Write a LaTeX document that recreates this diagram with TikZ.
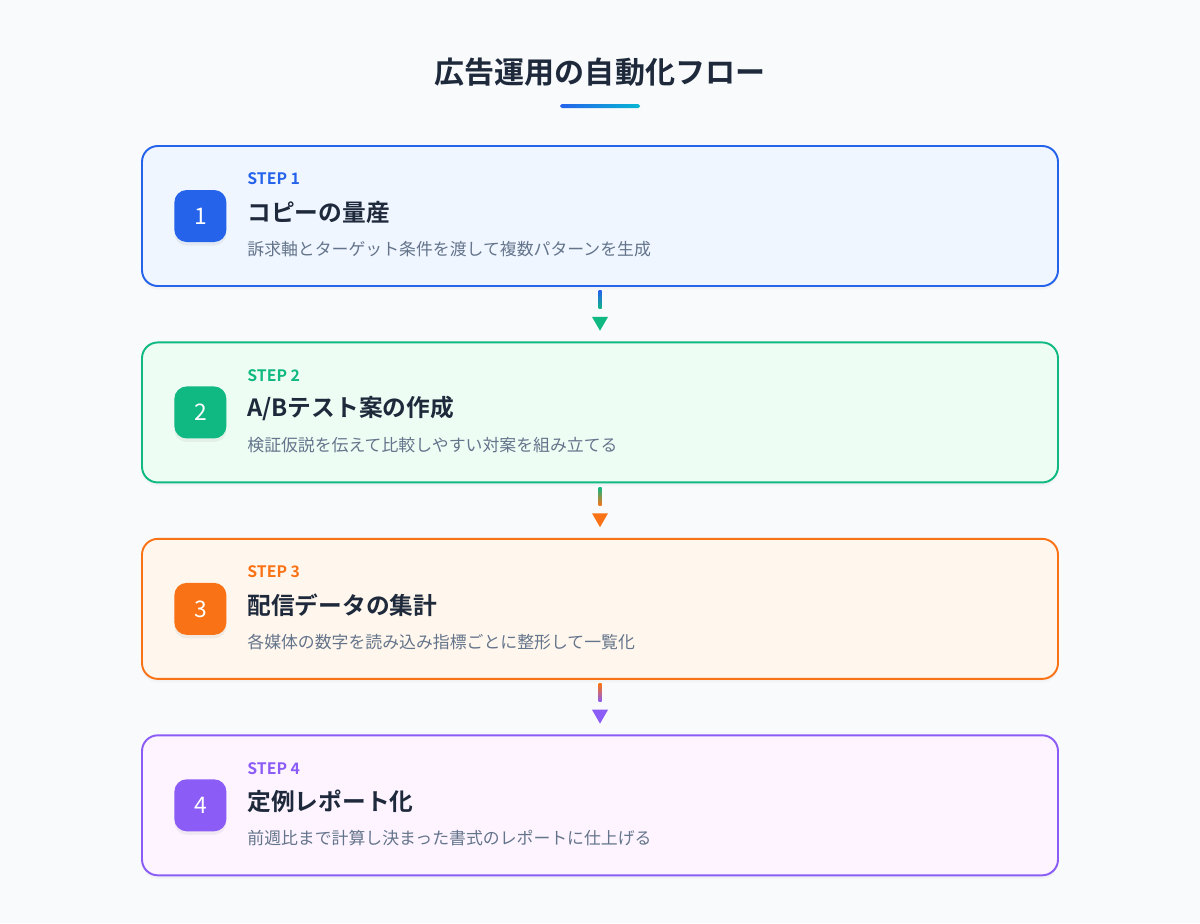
\documentclass[tikz,border=0pt]{standalone}
\usepackage{fontspec}
\setmainfont{Noto Sans CJK JP}[BoldFont={Noto Sans CJK JP Bold}]
\usepackage{xcolor}
\usetikzlibrary{positioning,shapes.geometric,shadows}

\definecolor{bgpage}{HTML}{F8FAFC}
\definecolor{ink}{HTML}{1E293B}
\definecolor{muted}{HTML}{64748B}
\definecolor{cblue}{HTML}{2563EB}
\definecolor{fblue}{HTML}{EFF6FF}
\definecolor{cgreen}{HTML}{10B981}
\definecolor{fgreen}{HTML}{EEFDF4}
\definecolor{corange}{HTML}{F97316}
\definecolor{forange}{HTML}{FFF7ED}
\definecolor{cpurple}{HTML}{8B5CF6}
\definecolor{fpurple}{HTML}{FDF4FF}
\definecolor{ccyan}{HTML}{06B6D4}

\begin{document}
\begin{tikzpicture}[
  node distance=1.09cm,
  stepbox/.style={draw=#1, line width=1.1pt, rounded corners=9pt,
              minimum width=18.32cm, minimum height=2.8cm,
              drop shadow={opacity=0.05, shadow xshift=0pt, shadow yshift=-2pt}},
  numbox/.style={fill=#1, rounded corners=7pt, minimum size=1.04cm,
              text=white, font=\fontsize{13}{15}\selectfont,
              drop shadow={opacity=0.10, shadow xshift=0pt, shadow yshift=-2pt}},
  steplbl/.style={anchor=west, inner sep=0pt, text=#1,
              font=\bfseries\fontsize{9}{11}\selectfont},
  steptitle/.style={anchor=west, inner sep=0pt, text=ink,
              font=\bfseries\fontsize{13.5}{16}\selectfont},
  stepdesc/.style={anchor=west, inner sep=0pt, text=muted,
              font=\fontsize{9.6}{12}\selectfont},
  tri/.style={regular polygon, regular polygon sides=3, shape border rotate=180,
              fill=#1, inner sep=0pt, minimum size=0.37cm}
]
\fill[bgpage] (0,0) rectangle (24,-18.46);
\useasboundingbox (0,0) rectangle (24,-18.46);

% title
\node[text=ink, font=\bfseries\fontsize{17.1}{20}\selectfont] (title) at (12,-1.44) {広告運用の自動化フロー};
\coordinate (ulA) at (11.2,-2.12);
\coordinate (ulB) at (12.8,-2.12);
\shade[left color=cblue, right color=ccyan, rounded corners=1pt]
      ([yshift=-0.04cm]ulA) rectangle ([yshift=0.04cm]ulB);

% steps
\node[stepbox=cblue, fill=fblue] (s1) at (12,-4.32) {};
\node[stepbox=cgreen, fill=fgreen, below=of s1] (s2) {};
\node[stepbox=corange, fill=forange, below=of s2] (s3) {};
\node[stepbox=cpurple, fill=fpurple, below=of s3] (s4) {};

\node[numbox=cblue, anchor=west] (n1) at ([xshift=0.66cm]s1.west) {1};
\node[numbox=cgreen, anchor=west] (n2) at ([xshift=0.66cm]s2.west) {2};
\node[numbox=corange, anchor=west] (n3) at ([xshift=0.66cm]s3.west) {3};
\node[numbox=cpurple, anchor=west] (n4) at ([xshift=0.66cm]s4.west) {4};

\node[steplbl=cblue] (l1) at ([xshift=2.12cm,yshift=0.74cm]s1.west) {STEP 1};
\node[steptitle] (t1) at ([xshift=2.12cm,yshift=0.08cm]s1.west) {コピーの量産};
\node[stepdesc] (d1) at ([xshift=2.12cm,yshift=-0.66cm]s1.west) {訴求軸とターゲット条件を渡して複数パターンを生成};

\node[steplbl=cgreen] (l2) at ([xshift=2.12cm,yshift=0.74cm]s2.west) {STEP 2};
\node[steptitle] (t2) at ([xshift=2.12cm,yshift=0.08cm]s2.west) {A/Bテスト案の作成};
\node[stepdesc] (d2) at ([xshift=2.12cm,yshift=-0.66cm]s2.west) {検証仮説を伝えて比較しやすい対案を組み立てる};

\node[steplbl=corange] (l3) at ([xshift=2.12cm,yshift=0.74cm]s3.west) {STEP 3};
\node[steptitle] (t3) at ([xshift=2.12cm,yshift=0.08cm]s3.west) {配信データの集計};
\node[stepdesc] (d3) at ([xshift=2.12cm,yshift=-0.66cm]s3.west) {各媒体の数字を読み込み指標ごとに整形して一覧化};

\node[steplbl=cpurple] (l4) at ([xshift=2.12cm,yshift=0.74cm]s4.west) {STEP 4};
\node[steptitle] (t4) at ([xshift=2.12cm,yshift=0.08cm]s4.west) {定例レポート化};
\node[stepdesc] (d4) at ([xshift=2.12cm,yshift=-0.66cm]s4.west) {前週比まで計算し決まった書式のレポートに仕上げる};

% connectors
\shade[top color=cblue, bottom color=cgreen]
      ([xshift=-0.03cm,yshift=-0.08cm]s1.south) rectangle ([xshift=0.03cm,yshift=-0.44cm]s1.south);
\node[tri=cgreen] (a1) at ([yshift=-0.69cm]s1.south) {};
\shade[top color=cgreen, bottom color=corange]
      ([xshift=-0.03cm,yshift=-0.08cm]s2.south) rectangle ([xshift=0.03cm,yshift=-0.44cm]s2.south);
\node[tri=corange] (a2) at ([yshift=-0.69cm]s2.south) {};
\shade[top color=corange, bottom color=cpurple]
      ([xshift=-0.03cm,yshift=-0.08cm]s3.south) rectangle ([xshift=0.03cm,yshift=-0.44cm]s3.south);
\node[tri=cpurple] (a3) at ([yshift=-0.69cm]s3.south) {};
\end{tikzpicture}
\end{document}
